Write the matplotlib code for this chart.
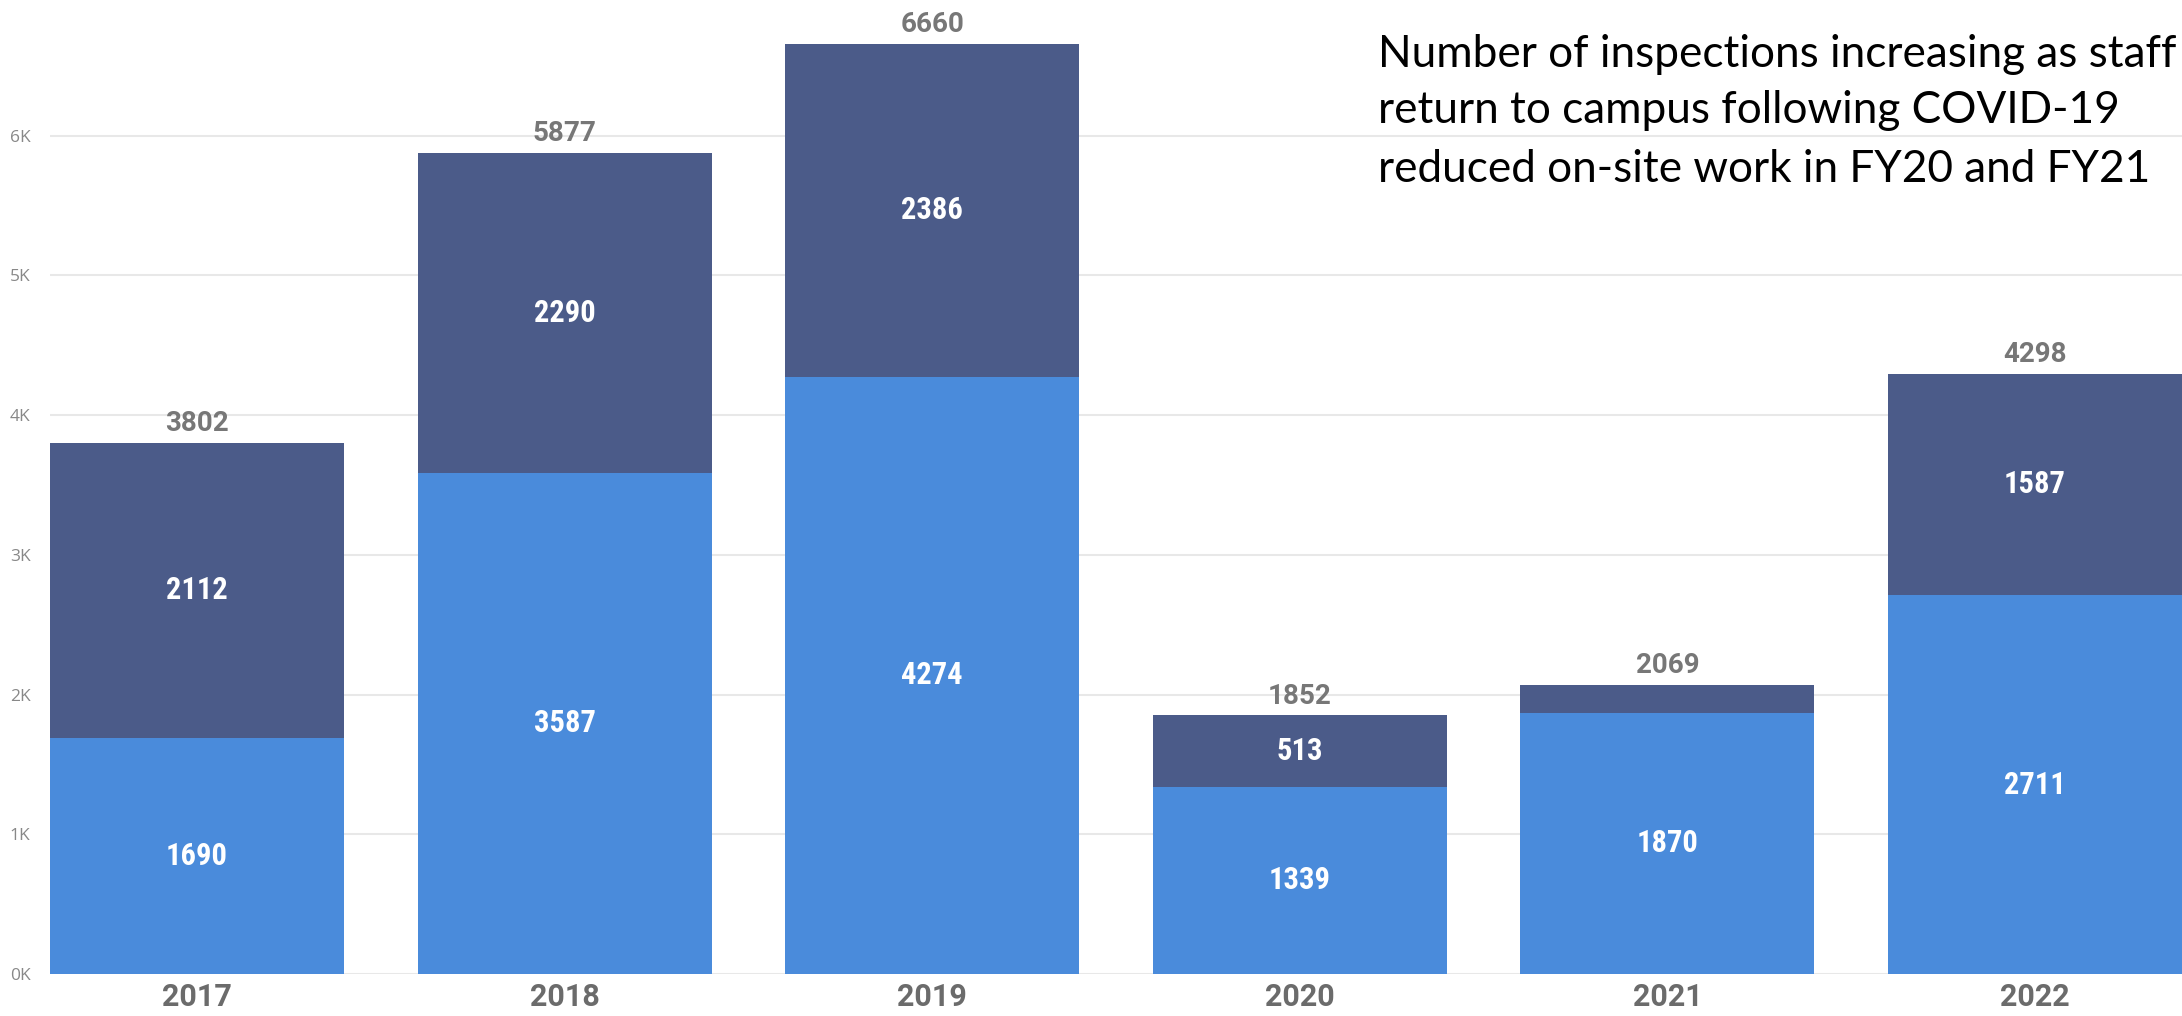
import matplotlib
matplotlib.use("Agg")
import matplotlib.pyplot as plt
import numpy as np

years = ["2017", "2018", "2019", "2020", "2021", "2022"]
lower = [1690, 3587, 4274, 1339, 1870, 2711]
upper = [2112, 2290, 2386, 513, 199, 1587]
totals = [3802, 5877, 6660, 1852, 2069, 4298]
ytick_vals = [0, 1000, 2000, 3000, 4000, 5000, 6000]
ytick_labels = ["0K", "1K", "2K", "3K", "4K", "5K", "6K"]
note_lines = ["Number of inspections increasing as staff",
              "return to campus following COVID-19",
              "reduced on-site work in FY20 and FY21"]

C_LOW = "#4A8BDB"
C_UP = "#4B5B89"
COND_FONT = ["Roboto Condensed", "Liberation Sans Narrow", "DejaVu Sans"]
WIDE_FONT = ["Roboto", "DejaVu Sans"]

W, H, DPI = 2182, 1016, 100
fig = plt.figure(figsize=(W / DPI, H / DPI), dpi=DPI)
ax = fig.add_axes([50 / W, 42 / H, 1 - 50 / W, 974 / H])

x = np.arange(len(years))
ax.bar(x, lower, width=0.8, color=C_LOW, zorder=3)
ax.bar(x, upper, bottom=lower, width=0.8, color=C_UP, zorder=3)

ax.set_xlim(-0.4, 5.4)
ax.set_ylim(0, 6972)
ax.set_yticks(ytick_vals)
ax.set_yticklabels(ytick_labels, color="#888888", fontsize=12.5,
                   family=["Open Sans", "DejaVu Sans"])
ax.set_xticks(x)
ax.set_xticklabels(years, color="#6b6b6b", fontsize=22, fontweight="bold",
                   family=WIDE_FONT)
ax.tick_params(axis="both", length=0)
ax.tick_params(axis="x", pad=6)
ax.tick_params(axis="y", pad=14)
ax.grid(axis="y", color="#e8e8e8", linewidth=1.5, zorder=0)
for s in ax.spines.values():
    s.set_visible(False)

for i in range(len(years)):
    if lower[i] >= 300:
        ax.text(x[i], lower[i] / 2, str(lower[i]), ha="center", va="center",
                color="white", fontsize=22, fontweight="bold", family=COND_FONT, zorder=4)
    if upper[i] >= 300:
        ax.text(x[i], lower[i] + upper[i] / 2, str(upper[i]), ha="center", va="center",
                color="white", fontsize=22, fontweight="bold", family=COND_FONT, zorder=4)
    ax.annotate(str(totals[i]), (x[i], lower[i] + upper[i]), xytext=(0, 4),
                textcoords="offset points", ha="center", va="bottom",
                color="#777777", fontsize=20, fontweight="bold", family=WIDE_FONT,
                annotation_clip=False)

# annotation text, fitted to the target width
fs = 32
t0 = fig.text(1378 / W, 1 - 67 / H, note_lines[0], fontsize=fs, family=["Lato", "DejaVu Sans"],
              color="black", va="baseline", ha="left")
fig.canvas.draw()
wpx = t0.get_window_extent().width
fs = fs * 800 / wpx
t0.set_fontsize(fs)
for j, yy in enumerate([123, 182]):
    fig.text(1378 / W, 1 - yy / H, note_lines[j + 1], fontsize=fs,
             family=["Lato", "DejaVu Sans"], color="black", va="baseline", ha="left")

fig.savefig("out.png", dpi=DPI, facecolor="white")
